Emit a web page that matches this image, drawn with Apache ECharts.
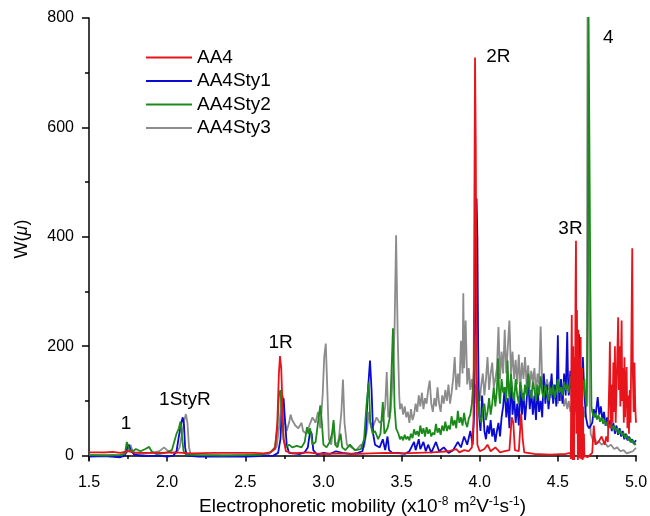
<!DOCTYPE html>
<html><head><meta charset="utf-8">
<script src="https://cdn.jsdelivr.net/npm/echarts@6/dist/echarts.min.js"></script>
<style>html,body{margin:0;padding:0;background:#fff}#c{width:650px;height:516px}</style>
</head><body><div id="c"></div>
<script>
const seriesNames = ['AA4', 'AA4Sty1', 'AA4Sty2', 'AA4Sty3'];
const xTicks = [1.5, 2.0, 2.5, 3.0, 3.5, 4.0, 4.5, 5.0];
const yTicks = [0, 200, 400, 600, 800];
const yMinorTicks = [100, 300, 500, 700];

const aa4 = [[1.5,6],[1.6,6],[1.65,7],[1.7,5],[1.75,8],[1.78,6],[1.85,5],[1.95,5],[2.05,6],[2.15,4],[2.3,5],[2.45,5],[2.55,5],[2.62,4],[2.66,6],[2.69,12],[2.705,60],[2.715,150],[2.722,182],[2.73,160],[2.738,90],[2.745,30],[2.76,8],[2.8,4],[2.9,6],[2.95,4],[3.0,3],[3.1,4],[3.2,3],[3.3,4],[3.4,5],[3.5,4],[3.6,5],[3.7,6],[3.8,8],[3.85,12],[3.87,6],[3.9,10],[3.93,8],[3.95,15],[3.96,60],[3.965,400],[3.97,728],[3.975,560],[3.98,120],[3.985,20],[4.0,8],[4.03,12],[4.05,20],[4.07,8],[4.1,15],[4.13,6],[4.16,8],[4.19,10],[4.205,70],[4.215,60],[4.225,10],[4.25,8],[4.265,77],[4.275,30],[4.285,6],[4.35,3],[4.45,2],[4.55,3],[4.58,5],[4.583,-6],[4.586,150],[4.589,257],[4.592,20],[4.595,-8],[4.598,200],[4.601,60],[4.604,-8],[4.607,180],[4.61,80],[4.613,300],[4.616,393],[4.619,40],[4.622,266],[4.625,150],[4.628,-8],[4.631,230],[4.634,100],[4.637,-5],[4.64,180],[4.643,60],[4.646,217],[4.649,-6],[4.652,120],[4.655,160],[4.658,-8],[4.661,90],[4.664,-5],[4.667,40],[4.67,0],[4.69,-3],[4.72,5],[4.73,55],[4.74,20],[4.76,25],[4.78,35],[4.8,20],[4.81,35],[4.82,25],[4.825,90],[4.83,150],[4.833,208],[4.837,90],[4.842,50],[4.846,130],[4.85,60],[4.855,170],[4.86,80],[4.865,200],[4.87,60],[4.875,120],[4.88,180],[4.886,253],[4.89,120],[4.895,200],[4.9,90],[4.904,180],[4.908,247],[4.912,100],[4.917,160],[4.922,60],[4.926,180],[4.93,70],[4.935,130],[4.94,162],[4.945,50],[4.95,110],[4.955,40],[4.96,120],[4.965,60],[4.97,200],[4.976,379],[4.98,150],[4.985,80],[4.99,170],[4.995,90],[5.0,60]];

const aa4sty1 = [[1.5,-2],[1.6,-1],[1.7,-3],[1.73,0],[1.745,15],[1.755,20],[1.77,8],[1.79,2],[1.85,-1],[1.95,0],[2.0,-2],[2.04,0],[2.06,8],[2.075,35],[2.09,60],[2.1,70],[2.108,55],[2.115,15],[2.125,0],[2.2,-2],[2.35,-2],[2.5,-2],[2.6,-1],[2.68,0],[2.71,5],[2.725,30],[2.735,90],[2.745,105],[2.755,60],[2.765,20],[2.78,5],[2.85,3],[2.88,6],[2.9,15],[2.915,45],[2.925,40],[2.935,10],[2.96,2],[3.0,5],[3.04,3],[3.08,8],[3.12,5],[3.18,3],[3.22,5],[3.25,8],[3.27,40],[3.285,120],[3.298,174],[3.308,120],[3.318,40],[3.33,20],[3.36,15],[3.38,30],[3.395,10],[3.41,35],[3.42,10],[3.44,5],[3.48,5],[3.52,3],[3.55,8],[3.58,25],[3.59,10],[3.61,30],[3.62,12],[3.64,25],[3.655,8],[3.67,20],[3.69,5],[3.72,25],[3.74,8],[3.77,15],[3.8,5],[3.83,10],[3.86,25],[3.88,15],[3.9,35],[3.92,20],[3.94,45],[3.955,20],[3.965,80],[3.975,380],[3.98,470],[3.985,400],[3.99,200],[3.995,80],[4.0,60],[4.005,45],[4.015,110],[4.025,70],[4.03,45],[4.04,30],[4.05,55],[4.06,40],[4.07,65],[4.08,35],[4.09,50],[4.1,25],[4.11,45],[4.12,60],[4.13,35],[4.14,70],[4.15,90],[4.16,125],[4.17,70],[4.18,105],[4.19,50],[4.2,145],[4.21,75],[4.22,110],[4.23,60],[4.24,95],[4.25,55],[4.26,130],[4.27,75],[4.28,115],[4.29,65],[4.3,100],[4.31,145],[4.32,85],[4.33,120],[4.34,75],[4.35,110],[4.36,65],[4.37,125],[4.38,80],[4.39,100],[4.4,70],[4.41,150],[4.42,95],[4.43,130],[4.44,85],[4.45,115],[4.46,150],[4.47,95],[4.48,130],[4.49,90],[4.5,220],[4.505,130],[4.51,100],[4.52,140],[4.53,95],[4.54,150],[4.55,110],[4.56,226],[4.565,140],[4.57,110],[4.58,155],[4.59,100],[4.6,165],[4.61,115],[4.62,140],[4.63,100],[4.635,222],[4.64,140],[4.65,105],[4.66,180],[4.67,110],[4.68,70],[4.69,55],[4.7,50],[4.72,60],[4.73,85],[4.74,70],[4.755,107],[4.765,75],[4.775,90],[4.785,65],[4.795,80],[4.805,55],[4.815,70],[4.825,50],[4.835,65],[4.845,45],[4.855,60],[4.865,40],[4.875,55],[4.885,38],[4.895,50],[4.905,35],[4.915,45],[4.925,30],[4.935,40],[4.945,28],[4.955,35],[4.965,25],[4.975,30],[4.985,22],[5.0,28]];

const aa4sty2 = [[1.5,1],[1.6,0],[1.7,1],[1.73,3],[1.742,25],[1.75,18],[1.76,10],[1.78,8],[1.8,12],[1.83,8],[1.86,12],[1.885,16],[1.9,8],[1.93,3],[1.97,4],[2.0,6],[2.03,10],[2.045,25],[2.06,40],[2.075,50],[2.085,62],[2.095,35],[2.105,8],[2.12,2],[2.2,1],[2.35,0],[2.5,1],[2.6,2],[2.66,6],[2.69,15],[2.705,50],[2.715,110],[2.725,120],[2.735,70],[2.745,30],[2.76,15],[2.78,20],[2.8,15],[2.83,18],[2.86,15],[2.88,25],[2.895,52],[2.905,40],[2.915,50],[2.93,20],[2.95,25],[2.965,60],[2.98,92],[2.99,60],[3.0,20],[3.02,15],[3.04,25],[3.055,40],[3.065,65],[3.075,20],[3.09,15],[3.11,40],[3.12,15],[3.14,10],[3.17,20],[3.2,10],[3.24,12],[3.26,30],[3.275,90],[3.29,134],[3.3,60],[3.315,40],[3.33,45],[3.35,30],[3.365,40],[3.38,98],[3.39,40],[3.41,50],[3.425,70],[3.435,150],[3.445,233],[3.455,90],[3.465,50],[3.48,40],[3.49,30],[3.5,35],[3.51,28],[3.52,38],[3.53,30],[3.54,35],[3.55,28],[3.56,40],[3.57,32],[3.58,48],[3.59,38],[3.6,45],[3.61,35],[3.62,55],[3.63,40],[3.64,50],[3.65,35],[3.66,52],[3.67,40],[3.68,48],[3.69,35],[3.7,42],[3.71,38],[3.72,58],[3.73,42],[3.74,50],[3.75,38],[3.76,55],[3.77,45],[3.78,62],[3.79,45],[3.8,55],[3.81,48],[3.82,72],[3.83,55],[3.84,65],[3.85,50],[3.86,82],[3.87,60],[3.88,70],[3.89,55],[3.9,78],[3.91,60],[3.92,52],[3.93,68],[3.94,75],[3.95,95],[3.96,140],[3.97,200],[3.975,220],[3.98,150],[3.99,90],[4.0,70],[4.01,60],[4.02,85],[4.03,95],[4.04,65],[4.05,80],[4.06,105],[4.07,75],[4.08,95],[4.09,125],[4.1,90],[4.11,120],[4.117,178],[4.125,110],[4.13,95],[4.14,140],[4.15,115],[4.16,125],[4.17,100],[4.178,174],[4.185,120],[4.19,105],[4.2,150],[4.21,115],[4.22,100],[4.23,140],[4.24,110],[4.25,95],[4.26,135],[4.27,115],[4.28,100],[4.29,130],[4.3,110],[4.31,150],[4.32,115],[4.33,105],[4.34,135],[4.35,120],[4.36,100],[4.37,130],[4.38,110],[4.39,145],[4.4,115],[4.41,105],[4.42,130],[4.43,115],[4.44,100],[4.45,125],[4.46,110],[4.47,130],[4.48,105],[4.49,120],[4.5,140],[4.51,115],[4.52,125],[4.53,110],[4.54,135],[4.55,120],[4.56,130],[4.57,115],[4.58,145],[4.59,125],[4.6,150],[4.61,130],[4.62,160],[4.625,175],[4.63,135],[4.64,120],[4.65,145],[4.66,125],[4.67,140],[4.675,110],[4.685,90],[4.692,300],[4.696,830],[4.704,830],[4.708,300],[4.715,90],[4.72,80],[4.73,70],[4.74,78],[4.75,66],[4.76,74],[4.77,62],[4.78,70],[4.79,58],[4.8,66],[4.81,55],[4.82,62],[4.83,52],[4.84,58],[4.85,48],[4.86,55],[4.87,45],[4.88,50],[4.89,40],[4.9,46],[4.91,37],[4.92,42],[4.93,32],[4.94,38],[4.95,28],[4.96,33],[4.97,24],[4.98,28],[4.99,20],[5.0,22]];

const aa4sty3 = [[1.5,1],[1.6,2],[1.7,1],[1.74,5],[1.755,15],[1.765,20],[1.78,8],[1.8,3],[1.85,3],[1.9,5],[1.95,8],[1.98,15],[2.0,10],[2.03,5],[2.06,5],[2.08,15],[2.095,40],[2.11,65],[2.12,76],[2.13,60],[2.14,15],[2.15,3],[2.25,2],[2.4,1],[2.55,2],[2.65,3],[2.7,15],[2.72,60],[2.73,100],[2.74,110],[2.75,70],[2.765,45],[2.78,60],[2.79,75],[2.8,65],[2.82,55],[2.84,50],[2.86,60],[2.87,45],[2.89,40],[2.91,55],[2.93,70],[2.95,60],[2.965,80],[2.98,50],[2.995,110],[3.005,180],[3.015,205],[3.025,120],[3.035,30],[3.05,20],[3.065,60],[3.075,25],[3.09,20],[3.1,35],[3.115,80],[3.125,139],[3.135,60],[3.15,20],[3.18,15],[3.21,10],[3.24,20],[3.26,15],[3.28,50],[3.29,80],[3.3,60],[3.32,55],[3.34,70],[3.36,60],[3.38,65],[3.395,90],[3.405,153],[3.415,70],[3.43,80],[3.445,150],[3.455,230],[3.465,403],[3.475,220],[3.485,110],[3.49,85],[3.5,95],[3.51,75],[3.52,90],[3.53,70],[3.54,80],[3.55,60],[3.56,85],[3.57,65],[3.58,75],[3.59,95],[3.6,80],[3.61,110],[3.62,90],[3.63,115],[3.64,85],[3.65,105],[3.66,95],[3.67,120],[3.68,137],[3.69,95],[3.7,80],[3.71,105],[3.72,90],[3.73,125],[3.74,95],[3.75,80],[3.76,110],[3.77,95],[3.78,120],[3.79,100],[3.8,130],[3.81,95],[3.82,115],[3.83,140],[3.84,180],[3.85,120],[3.86,150],[3.87,125],[3.88,210],[3.89,150],[3.895,297],[3.9,160],[3.905,200],[3.91,247],[3.92,130],[3.93,160],[3.94,120],[3.95,140],[3.96,110],[3.97,130],[3.98,95],[3.99,120],[4.0,100],[4.01,130],[4.02,150],[4.03,110],[4.04,140],[4.05,180],[4.06,120],[4.07,150],[4.08,170],[4.09,125],[4.1,140],[4.11,160],[4.12,235],[4.13,140],[4.14,190],[4.15,150],[4.16,230],[4.17,150],[4.18,200],[4.19,247],[4.2,150],[4.21,190],[4.22,140],[4.23,175],[4.24,130],[4.25,185],[4.26,125],[4.27,170],[4.28,140],[4.29,180],[4.3,130],[4.31,165],[4.32,125],[4.33,155],[4.34,135],[4.35,160],[4.36,115],[4.37,150],[4.38,130],[4.39,236],[4.4,130],[4.41,145],[4.42,115],[4.43,140],[4.44,120],[4.45,135],[4.46,105],[4.47,125],[4.48,110],[4.49,120],[4.5,95],[4.51,115],[4.52,100],[4.53,110],[4.54,90],[4.55,105],[4.56,85],[4.57,100],[4.58,80],[4.59,95],[4.6,85],[4.61,90],[4.62,75],[4.63,88],[4.64,80],[4.65,72],[4.66,85],[4.67,70],[4.68,90],[4.685,120],[4.69,830],[4.698,830],[4.703,100],[4.71,40],[4.72,32],[4.73,26],[4.74,30],[4.75,22],[4.76,27],[4.78,20],[4.8,24],[4.82,16],[4.84,20],[4.86,12],[4.88,15],[4.9,8],[4.92,10],[4.94,4],[4.96,6],[4.98,8],[5.0,14]];

const annoText = ['1', '1StyR', '1R', '2R', '3R', '4'];
const annoX = [1.737, 2.114, 2.726, 4.119, 4.581, 4.822];
const annoY = [59, 103, 206, 730, 414, 763];

const colors = {AA4: '#e8141b', AA4Sty1: '#0a0ad2', AA4Sty2: '#1b8a1b', AA4Sty3: '#8c8c8c'};
const FONT = 'Liberation Sans, Arial, sans-serif';

const chart = echarts.init(document.getElementById('c'));
function lineSeries(name, data) {
  return {
    name: name, type: 'line', data: data, symbol: 'none', showSymbol: false,
    lineStyle: {color: colors[name], width: 1.8}, itemStyle: {color: colors[name]},
    animation: false, clip: true
  };
}
chart.setOption({
  animation: false,
  backgroundColor: '#fff',
  textStyle: {fontFamily: FONT},
  grid: {left: 89, right: 14, top: 18, bottom: 56, containLabel: false, outerBoundsMode: 'none'},
  legend: {
    data: seriesNames, orient: 'vertical', left: 141, top: 43,
    icon: 'rect', itemWidth: 46, itemHeight: 2, itemGap: 4.5,
    textStyle: {fontSize: 19, color: '#000', fontFamily: FONT},
    selectedMode: false
  },
  xAxis: {
    type: 'value', min: 1.5, max: 5.0, interval: 0.5,
    axisLine: {lineStyle: {color: '#000', width: 1.5}},
    axisTick: {show: true, inside: false, length: 6, lineStyle: {color: '#000', width: 1.5}},
    minorTick: {show: true, splitNumber: 2, length: 3.5, lineStyle: {color: '#000', width: 1.5}},
    splitLine: {show: false},
    axisLabel: {fontSize: 16, color: '#000', margin: 15, formatter: v => v.toFixed(1), fontFamily: FONT},
    name: '{a|Electrophoretic mobility (x10}{s|-8}{a| m}{s|2}{a|V}{s|-1}{a|s}{s|-1}{a|)}',
    nameLocation: 'middle', nameGap: 36,
    nameTextStyle: {
      color: '#000', fontFamily: FONT,
      rich: {
        a: {fontSize: 19, lineHeight: 22, color: '#000', fontFamily: FONT},
        s: {fontSize: 12, lineHeight: 12, verticalAlign: 'top', color: '#000', fontFamily: FONT}
      }
    }
  },
  yAxis: [{
    type: 'value', min: -8, max: 800, position: 'left',
    axisLine: {show: true, lineStyle: {color: '#000', width: 1.5}},
    axisTick: {show: true, inside: false, length: 7, customValues: yTicks, lineStyle: {color: '#000', width: 1.5}},
    axisLabel: {fontSize: 16, color: '#000', margin: 15, customValues: yTicks, fontFamily: FONT},
    splitLine: {show: false},
    name: '{a|W(}{i|μ}{a|)}', nameLocation: 'middle', nameGap: 58, nameRotate: 90,
    nameTextStyle: {
      color: '#000',
      rich: {
        a: {fontSize: 18, color: '#000', fontFamily: FONT},
        i: {fontSize: 18, color: '#000', fontStyle: 'italic', fontFamily: FONT}
      }
    }
  }, {
    type: 'value', min: -8, max: 800, position: 'left', offset: 0,
    axisLine: {show: false},
    axisTick: {show: true, inside: false, length: 4, customValues: yMinorTicks, lineStyle: {color: '#000', width: 1.5}},
    axisLabel: {show: false},
    splitLine: {show: false}
  }],
  series: [
    lineSeries('AA4Sty3', aa4sty3),
    lineSeries('AA4Sty1', aa4sty1),
    lineSeries('AA4Sty2', aa4sty2),
    lineSeries('AA4', aa4),
    {
      name: 'labels', type: 'scatter', symbolSize: 1, silent: true,
      itemStyle: {color: 'rgba(0,0,0,0)', opacity: 1},
      data: annoText.map((t, i) => ({name: t, value: [annoX[i], annoY[i]]})),
      label: {show: true, position: 'inside', formatter: '{b}', fontSize: 19, color: '#000', opacity: 1, fontFamily: FONT},
      z: 10
    }
  ]
});
</script></body></html>
